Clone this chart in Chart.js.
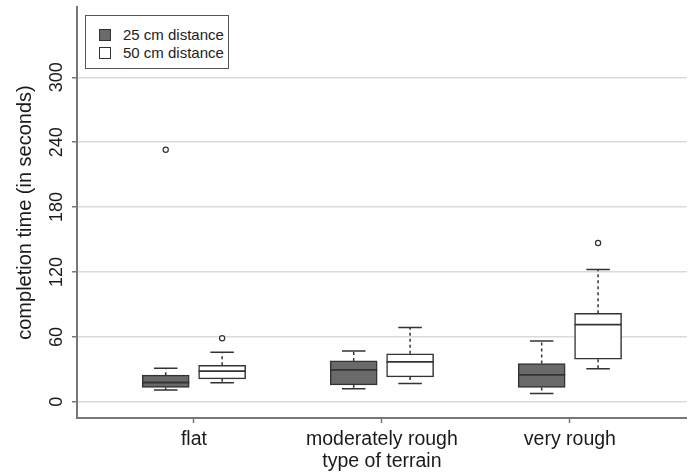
<!DOCTYPE html>
<html>
<head>
<meta charset="utf-8">
<script src="https://cdn.jsdelivr.net/npm/chart.js@4"></script>
<style>
  html, body { margin: 0; padding: 0; background: #fff; }
  #wrap { position: relative; width: 692px; height: 473px; }
  #legend {
    position: absolute; left: 85px; top: 15px; width: 142px; height: 52px;
    border: 1.5px solid #555; background: #fff;
    font: 15px "Liberation Sans", Arial, sans-serif; color: #222;
  }
  .lg-row { position: absolute; left: 13px; height: 18px; line-height: 18px; }
  .lg-sw { display: inline-block; width: 10px; height: 10px; border: 1px solid #333; vertical-align: -1px; margin-right: 12px; }
</style>
</head>
<body>
<div id="wrap">
  <canvas id="chart" width="692" height="473"></canvas>
  <div id="legend">
    <div class="lg-row" style="top:10px"><span class="lg-sw" style="background:#6a6a6a"></span>25 cm distance</div>
    <div class="lg-row" style="top:28px"><span class="lg-sw" style="background:#fff"></span>50 cm distance</div>
  </div>
</div>
<script>
// ── Data ────────────────────────────────────────────────────────────
const terrains = ['flat', 'moderately rough', 'very rough'];
const yTicks = [0, 60, 120, 180, 240, 300];

// 25 cm distance
const nearMin    = [11, 12, 7.7];
const nearQ1     = [13.2, 15.7, 13.2];
const nearMedian = [17.8, 29.5, 24.9];
const nearQ3     = [24.6, 37.8, 35.4];
const nearMax    = [31, 47, 56.3];
const nearOutliers = [[233], [], []];

// 50 cm distance
const farMin    = [17.5, 16.9, 30.5];
const farQ1     = [21.2, 23, 39.3];
const farMedian = [28.3, 36.9, 71.4];
const farQ3     = [33.8, 44.3, 81.8];
const farMax    = [45.8, 68.6, 122.4];
const farOutliers = [[58.7], [], [146.8]];

// ── Layout helpers ──────────────────────────────────────────────────
const SHIFT = 0.15;      // box offset from category centre (x units)
const BOX_W = 47;        // px
const FONT = '"Liberation Sans", Arial, sans-serif';

const groups = [
  { min: nearMin, q1: nearQ1, med: nearMedian, q3: nearQ3, max: nearMax, out: nearOutliers, dx: -SHIFT, fill: '#6a6a6a' },
  { min: farMin,  q1: farQ1,  med: farMedian,  q3: farQ3,  max: farMax,  out: farOutliers,  dx:  SHIFT, fill: '#ffffff' },
];

const boxSets = groups.map(g => ({
  type: 'bar',
  data: terrains.map((t, i) => ({ x: i + 1 + g.dx, y: [g.q1[i], g.q3[i]] })),
  backgroundColor: g.fill,
  borderColor: '#333',
  borderWidth: 1.5,
  borderSkipped: false,
  barThickness: BOX_W,
  grouped: false,
}));

const outlierSet = {
  type: 'scatter',
  data: groups.flatMap(g => g.out.flatMap((vals, i) => vals.map(v => ({ x: i + 1 + g.dx, y: v })))),
  pointRadius: 2.6,
  pointBackgroundColor: '#fff',
  pointBorderColor: '#333',
  pointBorderWidth: 1.2,
};

// whiskers + medians, drawn through the chart's scales
const boxPlotPlugin = {
  id: 'boxplot',
  afterDatasetsDraw(chart) {
    const { ctx, scales: { x, y } } = chart;
    ctx.save();
    groups.forEach(g => {
      terrains.forEach((t, i) => {
        const xc = x.getPixelForValue(i + 1 + g.dx);
        const half = BOX_W / 2, cap = BOX_W / 4;
        ctx.strokeStyle = '#333';
        ctx.lineWidth = 1.5;
        // dashed whisker stems
        ctx.setLineDash([3, 3]);
        ctx.beginPath();
        ctx.moveTo(xc, y.getPixelForValue(g.q3[i]));
        ctx.lineTo(xc, y.getPixelForValue(g.max[i]));
        ctx.moveTo(xc, y.getPixelForValue(g.q1[i]));
        ctx.lineTo(xc, y.getPixelForValue(g.min[i]));
        ctx.stroke();
        ctx.setLineDash([]);
        // caps
        ctx.beginPath();
        ctx.moveTo(xc - cap, y.getPixelForValue(g.max[i]));
        ctx.lineTo(xc + cap, y.getPixelForValue(g.max[i]));
        ctx.moveTo(xc - cap, y.getPixelForValue(g.min[i]));
        ctx.lineTo(xc + cap, y.getPixelForValue(g.min[i]));
        ctx.stroke();
        // median
        ctx.lineWidth = 1.8;
        ctx.beginPath();
        ctx.moveTo(xc - half, y.getPixelForValue(g.med[i]));
        ctx.lineTo(xc + half, y.getPixelForValue(g.med[i]));
        ctx.stroke();
      });
    });
    ctx.restore();
  }
};

new Chart(document.getElementById('chart'), {
  type: 'bar',
  data: { datasets: [...boxSets, outlierSet] },
  plugins: [boxPlotPlugin],
  options: {
    responsive: false,
    animation: false,
    layout: { padding: { top: 7, right: 5, left: 0, bottom: 0 } },
    plugins: { legend: { display: false }, tooltip: { enabled: false } },
    scales: {
      x: {
        type: 'linear',
        offset: false,
        min: 0.378, max: 3.622,
        afterBuildTicks: s => { s.ticks = terrains.map((t, i) => ({ value: i + 1 })); },
        afterFit: s => { s.height = 55; s.paddingLeft = 0; s.paddingRight = 0; },
        ticks: {
          callback: v => terrains[v - 1],
          font: { family: FONT, size: 19.5 }, color: '#1a1a1a', padding: 5, maxRotation: 0, autoSkip: false,
        },
        grid: { offset: false, drawOnChartArea: false, tickLength: 5, tickColor: '#777', tickWidth: 1.5 },
        border: { display: true, color: '#777', width: 2 },
        title: { display: true, text: 'type of terrain', font: { family: FONT, size: 19.5 }, color: '#1a1a1a', padding: { top: 0, bottom: 0 } },
      },
      y: {
        min: -15, max: 365,
        afterBuildTicks: s => { s.ticks = yTicks.map(v => ({ value: v })); },
        afterFit: s => { s.width = 77; s.paddingTop = 0; s.paddingBottom = 0; },
        ticks: {
          font: { family: FONT, size: 18 }, color: '#1a1a1a',
          minRotation: 90, maxRotation: 90, crossAlign: 'center', padding: 0,
        },
        grid: { color: '#dadada', lineWidth: 1.5, tickLength: 5, tickColor: '#777', tickWidth: 1.5 },
        border: { display: true, color: '#777', width: 2 },
        title: { display: true, text: 'completion time (in seconds)', font: { family: FONT, size: 20 }, color: '#1a1a1a', padding: { top: 13, bottom: 0 } },
      }
    }
  }
});
</script>
</body>
</html>
